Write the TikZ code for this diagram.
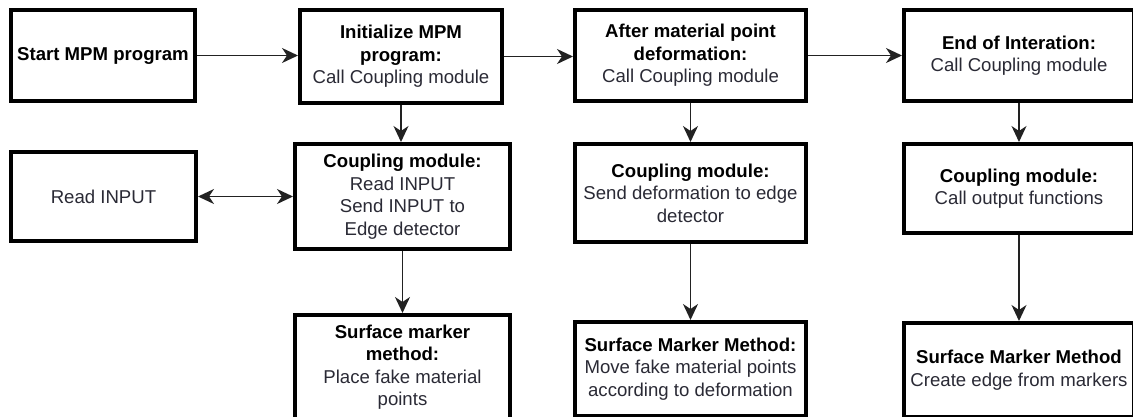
\documentclass[tikz,border=0pt]{standalone}
\usepackage{fontspec}
\setmainfont{Liberation Sans}
\usetikzlibrary{arrows.meta}
\definecolor{txt}{HTML}{2A2A35}
\definecolor{ln}{HTML}{222222}
\tikzset{
  box/.style={draw=black, line width=4pt, fill=white, inner sep=0pt, align=center,
    text=txt, font=\fontsize{18.6}{22.5}\selectfont},
  conn/.style={draw=ln, line width=1.6pt, -{Stealth[length=16pt,width=15pt,inset=5pt]}},
  dconn/.style={draw=ln, line width=1.6pt, {Stealth[length=16pt,width=15pt,inset=5pt]}-{Stealth[length=16pt,width=15pt,inset=5pt]}}
}
\newcommand\hd[1]{{\bfseries\color{black}#1}}
\begin{document}
\begin{tikzpicture}[x=1pt,y=-1pt]
\useasboundingbox (0,0) rectangle (1133,416);
\clip (0,0) rectangle (1133,416);
\node[box, minimum width=184pt, minimum height=91pt] (start) at (103,55.5) {\hd{Start MPM program}};
\node[box, minimum width=202pt, minimum height=93pt] (init) at (401,56.5) {\hd{Initialize MPM}\\\hd{program:}\\Call Coupling module};
\node[box, minimum width=231pt, minimum height=91pt] (after) at (690.5,55.5) {\hd{After material point}\\\hd{deformation:}\\Call Coupling module};
\node[box, minimum width=230pt, minimum height=91pt] (end) at (1019,55.5) {\hd{End of Interation:}\\Call Coupling module};
\node[box, minimum width=185pt, minimum height=89pt] (read) at (103.5,196.5) {Read INPUT};
\node[box, minimum width=215pt, minimum height=105pt] (c1) at (402.5,196.5) {\hd{Coupling module:}\\Read INPUT\\Send INPUT to\\Edge detector};
\node[box, minimum width=231pt, minimum height=98pt] (c2) at (690.5,193) {\hd{Coupling module:}\\Send deformation to edge\\detector};
\node[box, minimum width=230pt, minimum height=89pt] (c3) at (1019,188.5) {\hd{Coupling module:}\\Call output functions};
\node[box, minimum width=215pt, minimum height=104pt] (s1) at (402.5,367) {\hd{Surface marker}\\\hd{method:}\\Place fake material\\points};
\node[box, minimum width=231pt, minimum height=94pt] (s2) at (690.5,369) {\hd{Surface Marker Method:}\\Move fake material points\\according to deformation};
\node[box, minimum width=230pt, minimum height=94pt] (s3) at (1019,370) {\hd{Surface Marker Method}\\Create edge from markers};
\draw[conn] (start.east) -- (init.west |- start.east);
\draw[conn] (init.east) -- (after.west |- init.east);
\draw[conn] (after.east) -- (end.west |- after.east);
\draw[dconn] (read.east) -- (c1.west |- read.east);
\draw[conn] (init.south) -- (init.south |- c1.north);
\draw[conn] (c1.south) -- (c1.south |- s1.north);
\draw[conn] (after.south) -- (after.south |- c2.north);
\draw[conn] (c2.south) -- (c2.south |- s2.north);
\draw[conn] (end.south) -- (end.south |- c3.north);
\draw[conn] (c3.south) -- (c3.south |- s3.north);
\end{tikzpicture}
\end{document}
